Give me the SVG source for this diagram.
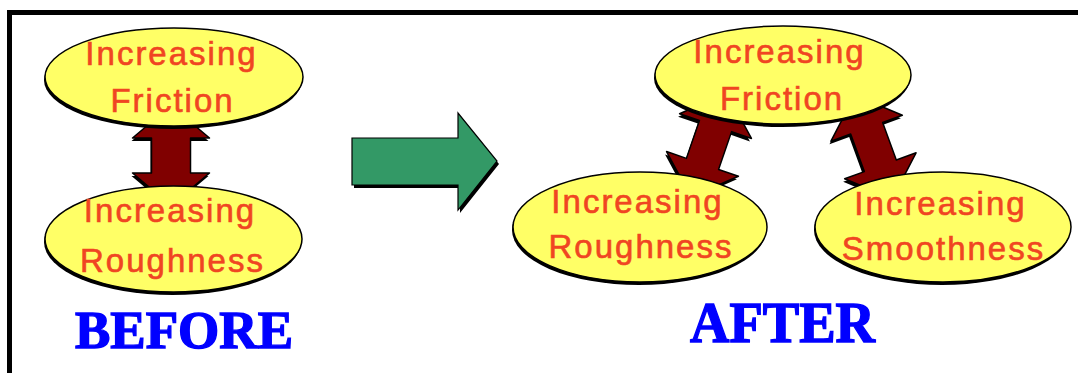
<svg xmlns="http://www.w3.org/2000/svg" width="1078" height="373" viewBox="0 0 1078 373">
<style>
.frame{fill:none;stroke:#000;stroke-width:5}
.nsh{fill:#000}
.nfill{fill:#ffff66;stroke:#000;stroke-width:1.5}
.lbl{font-family:"Liberation Sans",Arial,sans-serif;font-size:33px;fill:#f04522;stroke:#f04522;stroke-width:0.6;text-anchor:middle;letter-spacing:2px}
.title{font-family:"Liberation Serif","Times New Roman",serif;font-weight:bold;fill:#0000ff;stroke:#0000ff;stroke-width:1.4}
.arr{fill:#800000;stroke:#000;stroke-width:1.5;stroke-linejoin:round}
.sh{fill:#000}
.green{fill:#339966;stroke:#000;stroke-width:1.2}
</style>
<defs>
<polygon id="dbl" points="0,-55 38,-20 17,-20 17,20 38,20 0,55 -38,20 -17,20 -17,-20 -38,-20"/>
<polygon id="dblv" points="0,-50 38.5,-17.5 19.5,-17.5 19.5,17.5 38.5,17.5 0,50 -38.5,17.5 -19.5,17.5 -19.5,-17.5 -38.5,-17.5"/>
</defs>
<rect class="frame" x="9.5" y="12.5" width="1100" height="400"/>
<g id="connectors">
<g id="arrow-before">
<use href="#dblv" class="sh" transform="translate(170,158.5)"/>
<use href="#dblv" class="arr" transform="translate(171,155.5)"/>
</g>
<g id="arrow-friction-roughness">
<use href="#dbl" class="sh" transform="translate(707.5,148) rotate(19)"/>
<use href="#dbl" class="arr" transform="translate(709,145) rotate(19)"/>
</g>
<g id="arrow-friction-smoothness">
<use href="#dbl" class="sh" transform="translate(872,150) rotate(-20)"/>
<use href="#dbl" class="arr" transform="translate(873.5,147) rotate(-20)"/>
</g>
</g>
<g id="transition-arrow">
<polygon class="sh" points="354,141 460,141 460,116 499,164 460,213 460,188 354,188"/>
<polygon class="green" points="352,138 458,138 458,113 497,161 458,210 458,185 352,185"/>
</g>
<g id="before-friction">
<ellipse class="nsh" cx="173" cy="80" rx="129" ry="49"/>
<ellipse class="nfill" cx="174" cy="77" rx="129" ry="49"/>
<text class="lbl" x="171.5" y="65">Increasing</text>
<text class="lbl" x="172.5" y="112">Friction</text>
</g>
<g id="before-roughness">
<ellipse class="nsh" cx="172.5" cy="242" rx="128.5" ry="53"/>
<ellipse class="nfill" cx="173.5" cy="239" rx="128.5" ry="53"/>
<text class="lbl" x="170" y="222">Increasing</text>
<text class="lbl" x="172.5" y="272">Roughness</text>
</g>
<g id="after-friction">
<ellipse class="nsh" cx="782" cy="78" rx="128" ry="49"/>
<ellipse class="nfill" cx="783" cy="75" rx="128" ry="49"/>
<text class="lbl" x="779.5" y="63">Increasing</text>
<text class="lbl" x="782" y="110">Friction</text>
</g>
<g id="after-roughness">
<ellipse class="nsh" cx="639" cy="230" rx="127" ry="55"/>
<ellipse class="nfill" cx="640" cy="227" rx="127" ry="55"/>
<text class="lbl" x="637.5" y="213">Increasing</text>
<text class="lbl" x="641" y="258">Roughness</text>
</g>
<g id="after-smoothness">
<ellipse class="nsh" cx="942" cy="230" rx="128" ry="55"/>
<ellipse class="nfill" cx="943" cy="227" rx="128" ry="55"/>
<text class="lbl" x="940.5" y="215">Increasing</text>
<text class="lbl" x="943.5" y="260">Smoothness</text>
</g>
<g id="captions">
<text class="title" x="75" y="348" font-size="53" textLength="218" lengthAdjust="spacingAndGlyphs">BEFORE</text>
<text class="title" x="690" y="342" font-size="57" textLength="185" lengthAdjust="spacingAndGlyphs">AFTER</text>
</g>
</svg>
